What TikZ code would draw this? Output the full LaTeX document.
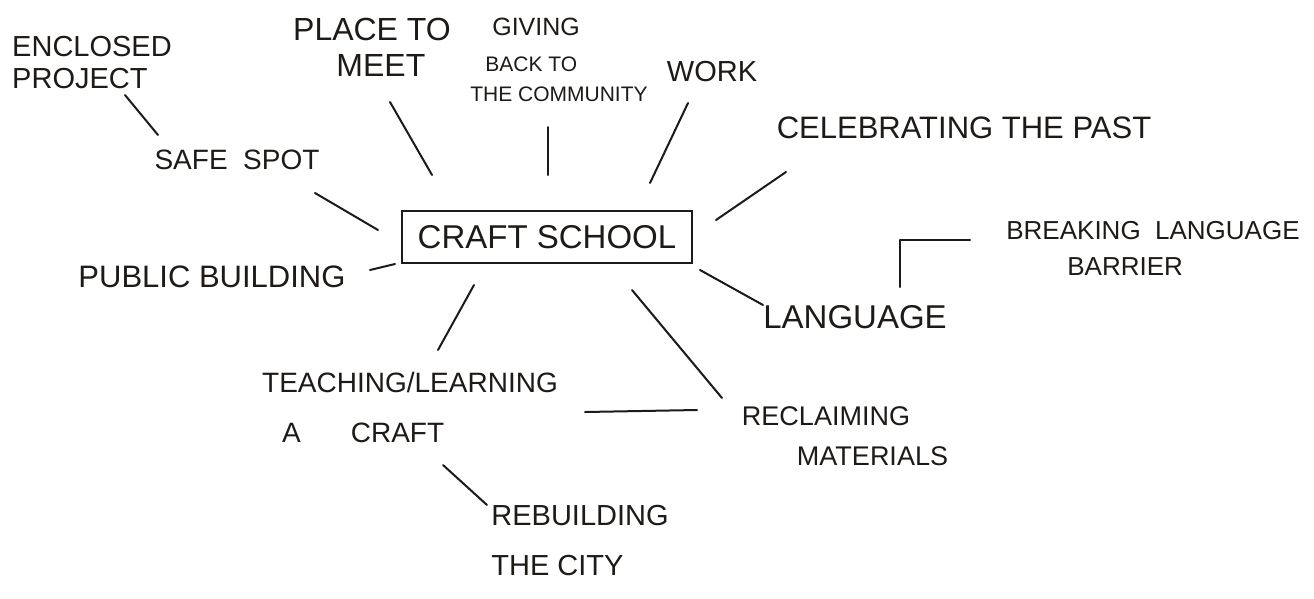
\documentclass[tikz,border=0pt]{standalone}
\usepackage{fontspec}
\setmainfont{Liberation Sans}
\usetikzlibrary{calc}
\definecolor{ink}{HTML}{1E1A17}
\newcommand\fsz[2]{\fontsize{#1}{#2}\selectfont}
\begin{document}
\begin{tikzpicture}[x=1pt,y=-1pt,
  hw/.style={inner sep=0pt, text=ink},
  link/.style={draw=ink, line width=2pt, line cap=round, line join=round}]
\useasboundingbox[fill=white] (0,0) rectangle (1314,598);

% nodes
\node[hw, align=left, font=\fsz{29}{32}] (enc) at (92,63) {ENCLOSED\\PROJECT};
\node[hw, font=\fsz{28}{32}] (safe) at (237,160) {SAFE\ \ SPOT};
\node[hw, align=center, font=\fsz{32}{36}] (place) at (372,47) {PLACE TO\\\ \ MEET};
\node[hw, align=left, font=\fsz{21}{30}] (giving) at (559,60) {\hspace{22pt}{\fsz{25}{30}GIVING}\\[6pt]\hspace{15pt}BACK TO\\THE COMMUNITY};
\node[hw, font=\fsz{29}{32}] (work) at (712,72) {WORK};
\node[hw, font=\fsz{31}{32}] (celeb) at (964,128) {CELEBRATING THE PAST};
\node[hw, draw=ink, line width=2pt, minimum width=290pt, minimum height=52pt, font=\fsz{33}{36}] (craft) at (547,237) {CRAFT SCHOOL};
\node[hw, align=left, font=\fsz{26}{36}] (break) at (1153,248) {BREAKING\ \ LANGUAGE\\\hspace{61pt}BARRIER};
\node[hw, font=\fsz{31}{32}] (public) at (212,277) {PUBLIC BUILDING};
\node[hw, font=\fsz{33}{32}] (lang) at (855,317) {LANGUAGE};
\node[hw, align=left, font=\fsz{28}{50}] (teach) at (410,407) {TEACHING/LEARNING\\\hspace{20pt}A\hspace{50pt}CRAFT};
\node[hw, align=left, font=\fsz{27}{40}] (recl) at (845,436) {RECLAIMING\\\hspace{55pt}MATERIALS};
\node[hw, align=left, font=\fsz{29}{50}] (rebuild) at (580,541) {REBUILDING\\THE CITY};

% connectors
\draw[link] ($(enc)+(33,32)$) -- ($(safe)+(-79,-25)$);
\draw[link] ($(safe)+(78,33)$) -- ($(craft)+(-169,-7)$);
\draw[link] ($(place)+(18,55)$) -- ($(craft)+(-115,-62)$);
\draw[link] ($(giving)+(-11,67)$) -- ($(craft)+(1,-62)$);
\draw[link] ($(work)+(-24,31)$) -- ($(craft)+(103,-54)$);
\draw[link] ($(celeb)+(-178,44)$) -- ($(craft)+(169,-17)$);
\draw[link] ($(public)+(158,-7)$) -- ($(craft)+(-152,27)$);
\draw[link] ($(craft)+(153,33)$) -- ($(lang)+(-92,-12)$);
\draw[link] ($(lang)+(45,-30)$) |- ($(break)+(-183,-8)$);
\draw[link] ($(craft)+(-73,48)$) -- ($(teach)+(28,-57)$);
\draw[link] ($(craft)+(85,53)$) -- ($(recl)+(-123,-38)$);
\draw[link] ($(teach)+(175,5)$) -- ($(recl)+(-148,-26)$);
\draw[link] ($(teach)+(33,58)$) -- ($(rebuild)+(-93,-36)$);
\end{tikzpicture}
\end{document}
